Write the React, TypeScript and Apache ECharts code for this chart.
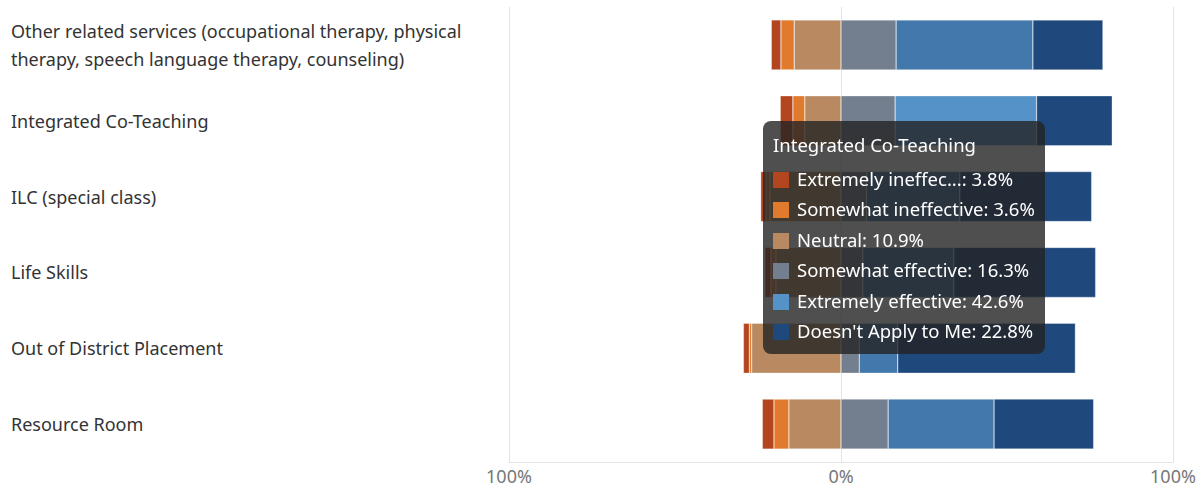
import React, { useEffect, useRef } from "react";
import * as echarts from "echarts";

const categories = [
  "Other related services (occupational therapy, physical therapy, speech language therapy, counseling)",
  "Integrated Co-Teaching",
  "ILC (special class)",
  "Life Skills",
  "Out of District Placement",
  "Resource Room",
];
const extremelyIneffective = [2.9, 3.8, 1.6, 1.8, 1.8, 3.5];
const somewhatIneffective = [4.0, 3.6, 1.2, 1.5, 0.7, 4.5];
const neutral = [14.1, 10.9, 21.4, 19.6, 26.9, 15.7];
const somewhatEffective = [16.6, 16.3, 7.7, 6.6, 5.5, 14.2];
const extremelyEffective = [41.2, 42.6, 28.1, 27.4, 11.6, 31.9];
const doesntApply = [21.1, 22.8, 39.7, 42.7, 53.5, 30.0];

const xMin = -100;
const xMax = 100;
const xInterval = 100;

const FONT = "'Noto Sans', 'Open Sans', sans-serif";

const COLORS = {
  extInef: "#b4461f",
  somInef: "#e07b2e",
  neutral: "#b98a62",
  somEff: "#737f8f",
  extEff: "#4278ab",
  extEffHover: "#5592c8",
  na: "#1f497d",
};

export default function App() {
  const ref = useRef<HTMLDivElement>(null);

  useEffect(() => {
    document.body.style.margin = "0";
    if (!ref.current) return;
    const chart = echarts.init(ref.current, null, { renderer: "svg" });

    const neg = (arr: number[]) => arr.map((v) => -v);

    const seriesDefs = [
      { name: "Neutral", data: neg(neutral), color: COLORS.neutral },
      { name: "Somewhat ineffective", data: neg(somewhatIneffective), color: COLORS.somInef },
      { name: "Extremely ineffective", data: neg(extremelyIneffective), color: COLORS.extInef },
      { name: "Somewhat effective", data: somewhatEffective, color: COLORS.somEff },
      {
        name: "Extremely effective",
        data: extremelyEffective.map((v, i) =>
          i === 1 ? { value: v, itemStyle: { color: COLORS.extEffHover } } : v
        ),
        color: COLORS.extEff,
      },
      { name: "Doesn't Apply to Me", data: doesntApply, color: COLORS.na },
    ];

    const tooltipOrder = [
      "Extremely ineffective",
      "Somewhat ineffective",
      "Neutral",
      "Somewhat effective",
      "Extremely effective",
      "Doesn't Apply to Me",
    ];

    const shortName = (n: string) => (n.length > 20 ? n.slice(0, 17) + "..." : n);

    chart.setOption({
      animation: false,
      textStyle: { fontFamily: FONT },
      grid: { left: 509, right: 27, top: 7, bottom: 26, containLabel: false },
      tooltip: {
        trigger: "axis",
        axisPointer: { type: "none" },
        alwaysShowContent: true,
        transitionDuration: 0,
        position: [763, 121],
        backgroundColor: "rgba(35,35,35,0.8)",
        borderWidth: 0,
        borderRadius: 8,
        padding: [8, 10, 8, 10],
        extraCssText: "box-shadow:none;",
        textStyle: { color: "#fff", fontFamily: FONT, fontSize: 18 },
        formatter: (params: any) => {
          const list = Array.isArray(params) ? params : [params];
          const title = list[0].name;
          let html = `<div style="font-family:${FONT};font-size:18.5px;line-height:32px;color:#fff;padding-bottom:3px">${title}</div>`;
          tooltipOrder.forEach((nm) => {
            const p = list.find((q: any) => q.seriesName === nm);
            if (!p) return;
            const val = Math.abs(typeof p.value === "object" ? p.value.value : p.value);
            html += `<div style="font-family:${FONT};font-size:18.5px;line-height:30.4px;color:#fff;white-space:nowrap"><span style="display:inline-block;width:16px;height:16px;background:${p.color};margin-right:8px;vertical-align:-2px"></span>${shortName(nm)}: ${val.toFixed(1)}%</div>`;
          });
          return html;
        },
      },
      xAxis: {
        type: "value",
        min: xMin,
        max: xMax,
        interval: xInterval,
        axisLine: { show: true, lineStyle: { color: "#e3e3e3" } },
        axisTick: { show: false },
        splitLine: { show: true, lineStyle: { color: "#e3e3e3", width: 1 } },
        axisLabel: {
          color: "#777",
          fontSize: 18,
          fontFamily: FONT,
          margin: 5,
          formatter: (v: number) => Math.abs(v) + "%",
        },
      },
      yAxis: {
        type: "category",
        data: categories,
        inverse: true,
        axisLine: { show: false },
        axisTick: { show: false },
        splitLine: { show: false },
        axisLabel: {
          align: "left",
          margin: 498,
          color: "#333",
          fontSize: 18,
          fontFamily: FONT,
          width: 470,
          overflow: "break",
          lineHeight: 28,
        },
      },
      series: seriesDefs.map((s) => ({
        name: s.name,
        type: "bar",
        stack: "total",
        barWidth: 50,
        data: s.data,
        itemStyle: { color: s.color, borderColor: "rgba(255,255,255,0.6)", borderWidth: 0.5 },
        emphasis: { disabled: true },
      })),
    });

    const t = setTimeout(() => {
      chart.dispatchAction({ type: "showTip", seriesIndex: 0, dataIndex: 1 });
    }, 50);

    return () => {
      clearTimeout(t);
      chart.dispose();
    };
  }, []);

  return (
    <div style={{ position: "fixed", left: 0, top: 0, width: 1200, height: 488 }}>
      <div ref={ref} style={{ width: 1200, height: 488, background: "#fff" }} />
    </div>
  );
}
